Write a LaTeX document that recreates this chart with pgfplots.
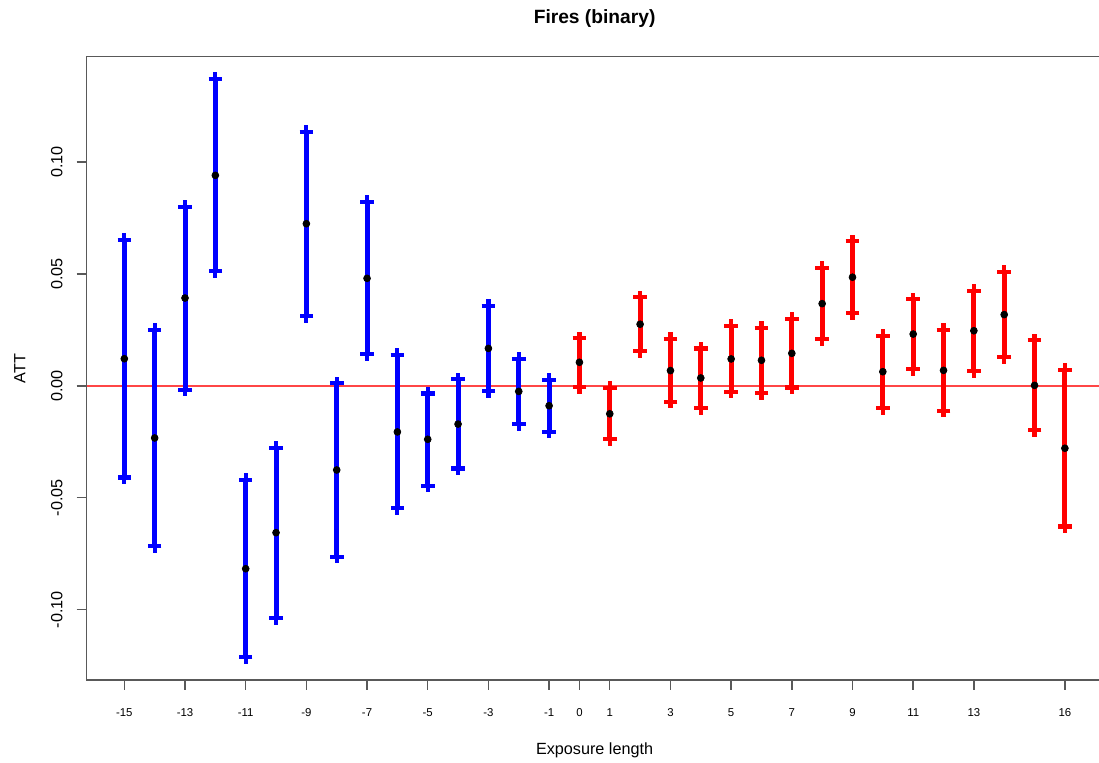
\documentclass[border=0pt]{standalone}
\usepackage{fontspec}
\setmainfont{Liberation Sans}
\usepackage{pgfplots}
\usepackage{pgfplotstable}
\pgfplotsset{compat=1.18}
\pgfplotstableread{
x y lo hi
-15 0.0121 -0.0410 0.0650
-14 -0.0233 -0.0716 0.0249
-13 0.0392 -0.0017 0.0799
-12 0.0940 0.0513 0.1369
-11 -0.0817 -0.1213 -0.0422
-10 -0.0656 -0.1036 -0.0278
-9 0.0724 0.0313 0.1134
-8 -0.0376 -0.0763 0.0011
-7 0.0480 0.0142 0.0820
-6 -0.0206 -0.0547 0.0138
-5 -0.0239 -0.0446 -0.0034
-4 -0.0171 -0.0369 0.0029
-3 0.0167 -0.0022 0.0356
-2 -0.0025 -0.0171 0.0121
-1 -0.0089 -0.0205 0.0027
}\pre
\pgfplotstableread{
x y lo hi
0 0.0105 -0.0005 0.0212
1 -0.0125 -0.0239 -0.0010
2 0.0275 0.0154 0.0395
3 0.0068 -0.0071 0.0209
4 0.0035 -0.0098 0.0167
5 0.0120 -0.0026 0.0267
6 0.0114 -0.0031 0.0258
7 0.0145 -0.0008 0.0300
8 0.0367 0.0209 0.0526
9 0.0485 0.0324 0.0645
10 0.0063 -0.0098 0.0222
11 0.0231 0.0075 0.0386
12 0.0069 -0.0111 0.0251
13 0.0246 0.0066 0.0425
14 0.0318 0.0129 0.0508
15 0.0002 -0.0199 0.0203
16 -0.0279 -0.0628 0.0071
}\post
\definecolor{zeroline}{RGB}{255,70,70}
\begin{document}
\begin{tikzpicture}
\begin{axis}[
  at={(0,0)}, anchor=south west,
  scale only axis,
  width=507.9pt, height=311.65pt,
  xmin=-16.24, xmax=17.24,
  ymin=-0.1314, ymax=0.1470,
  axis line style={black!65, line width=0.8pt},
  tick style={black!65, line width=0.7pt},
  tick align=outside,
  major tick length=5pt,
  xtick pos=bottom, ytick pos=left,
  xtick={-15,-13,-11,-9,-7,-5,-3,-1,0,1,3,5,7,9,11,13,16},
  xticklabels={-15,-13,-11,-9,-7,-5,-3,-1,0,1,3,5,7,9,11,13,16},
  ytick={-0.10,-0.05,0,0.05,0.10},
  yticklabels={-0.10,-0.05,0.00,0.05,0.10},
  xticklabel style={font=\fontsize{5.7}{6}\selectfont, anchor=center, yshift=-11.5pt},
  yticklabel style={font=\fontsize{8.1}{9}\selectfont, rotate=90, anchor=center, yshift=10pt},
  xlabel={Exposure length},
  xlabel style={font=\fontsize{8.1}{9}\selectfont, at={(0.5,0)}, anchor=base, yshift=-37.5pt},
  ylabel={ATT},
  ylabel style={font=\fontsize{8.1}{9}\selectfont, at={(0,0.5)}, anchor=center, yshift=33.4pt},
  clip=false,
]
\addplot[color=zeroline, solid, line width=0.7pt, mark=none, forget plot] table {
x y
-16.24 0
17.24 0
};
\addplot[only marks, mark=*, mark size=1.7pt, black,
  error bars/.cd, y dir=both, y explicit,
  error bar style={blue, line width=2.5pt},
  error mark=+,
  error mark options={blue, line width=2.1pt, mark size=3.4pt}]
  table[x=x, y=y, y error plus expr=\thisrow{hi}-\thisrow{y}, y error minus expr=\thisrow{y}-\thisrow{lo}] {\pre};
\addplot[only marks, mark=*, mark size=1.7pt, black,
  error bars/.cd, y dir=both, y explicit,
  error bar style={red, line width=2.5pt},
  error mark=+,
  error mark options={red, line width=2.1pt, mark size=3.4pt}]
  table[x=x, y=y, y error plus expr=\thisrow{hi}-\thisrow{y}, y error minus expr=\thisrow{y}-\thisrow{lo}] {\post};
\end{axis}
\node[anchor=base, font=\fontsize{9.6}{11}\selectfont\bfseries] at (253.95pt,328pt) {Fires (binary)};
\pgfresetboundingbox
\path (-43.35pt,-41.5pt) rectangle (506.15pt,340pt);
\end{tikzpicture}
\end{document}
